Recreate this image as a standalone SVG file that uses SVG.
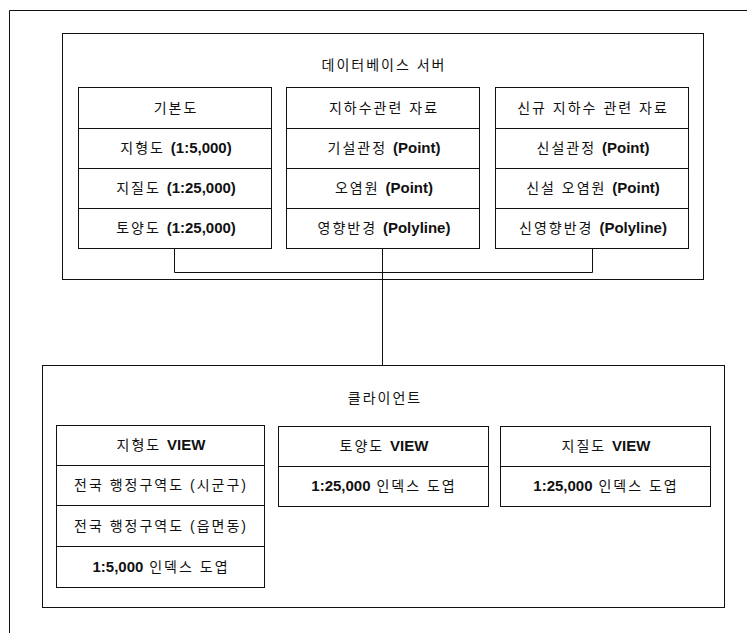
<svg xmlns="http://www.w3.org/2000/svg" width="747" height="633" viewBox="0 0 747 633">
<style>
.f{fill:#fff;stroke:#111;stroke-width:1}
.n{fill:none;stroke:#111;stroke-width:1}
text{font-family:"Liberation Sans","Noto Sans CJK KR",sans-serif;font-size:14px;fill:#111;text-anchor:middle;letter-spacing:2px}
.b{font-weight:bold;font-size:15px;letter-spacing:0}
</style>
<rect width="747" height="633" fill="#fff"/>
<g id="frame"><path class="n" d="M9.5 633V10.5H747"/></g>
<g id="db-server">
<rect class="f" x="62.5" y="33.5" width="641" height="246"/>
<text x="384" y="70">데이터베이스 서버</text>
</g>
<g id="client">
<rect class="f" x="42.5" y="365.5" width="682" height="242"/>
<text x="385" y="403">클라이언트</text>
</g>
<g id="connectors">
<path class="n" d="M174.5 249V272.5H592.5V249"/>
<path class="n" d="M382.5 249V365.5"/>
</g>
<g id="basemap">
<rect class="f" x="78.5" y="87.5" width="193" height="161"/>
<path class="n" d="M78.5 128.5H271.5M78.5 168.5H271.5M78.5 208.5H271.5"/>
<text x="176" y="113">기본도</text>
<text x="176" y="153">지형도 <tspan class="b">(1:5,000)</tspan></text>
<text x="176" y="193">지질도 <tspan class="b">(1:25,000)</tspan></text>
<text x="176" y="233">토양도 <tspan class="b">(1:25,000)</tspan></text>
</g>
<g id="groundwater">
<rect class="f" x="286.5" y="87.5" width="193" height="161"/>
<path class="n" d="M286.5 128.5H479.5M286.5 168.5H479.5M286.5 208.5H479.5"/>
<text x="384" y="113">지하수관련 자료</text>
<text x="384" y="153">기설관정 <tspan class="b">(Point)</tspan></text>
<text x="384" y="193">오염원 <tspan class="b">(Point)</tspan></text>
<text x="384" y="233">영향반경 <tspan class="b">(Polyline)</tspan></text>
</g>
<g id="new-groundwater">
<rect class="f" x="495.5" y="87.5" width="193" height="161"/>
<path class="n" d="M495.5 128.5H688.5M495.5 168.5H688.5M495.5 208.5H688.5"/>
<text x="593" y="113">신규 지하수 관련 자료</text>
<text x="593" y="153">신설관정 <tspan class="b">(Point)</tspan></text>
<text x="593" y="193">신설 오염원 <tspan class="b">(Point)</tspan></text>
<text x="593" y="233">신영향반경 <tspan class="b">(Polyline)</tspan></text>
</g>
<g id="topo-view">
<rect class="f" x="56.5" y="425.5" width="208" height="162"/>
<path class="n" d="M56.5 465.5H264.5M56.5 505.5H264.5M56.5 546.5H264.5"/>
<text x="161" y="450">지형도 <tspan class="b">VIEW</tspan></text>
<text x="161" y="490">전국 행정구역도 (시군구)</text>
<text x="161" y="531">전국 행정구역도 (읍면동)</text>
<text x="161" y="572"><tspan class="b">1:5,000</tspan> 인덱스 도엽</text>
</g>
<g id="soil-view">
<rect class="f" x="278.5" y="426.5" width="210" height="80"/>
<path class="n" d="M278.5 466.5H488.5"/>
<text x="384" y="451">토양도 <tspan class="b">VIEW</tspan></text>
<text x="384" y="491"><tspan class="b">1:25,000</tspan> 인덱스 도엽</text>
</g>
<g id="geology-view">
<rect class="f" x="500.5" y="426.5" width="210" height="80"/>
<path class="n" d="M500.5 466.5H710.5"/>
<text x="606" y="451">지질도 <tspan class="b">VIEW</tspan></text>
<text x="606" y="491"><tspan class="b">1:25,000</tspan> 인덱스 도엽</text>
</g>
</svg>
